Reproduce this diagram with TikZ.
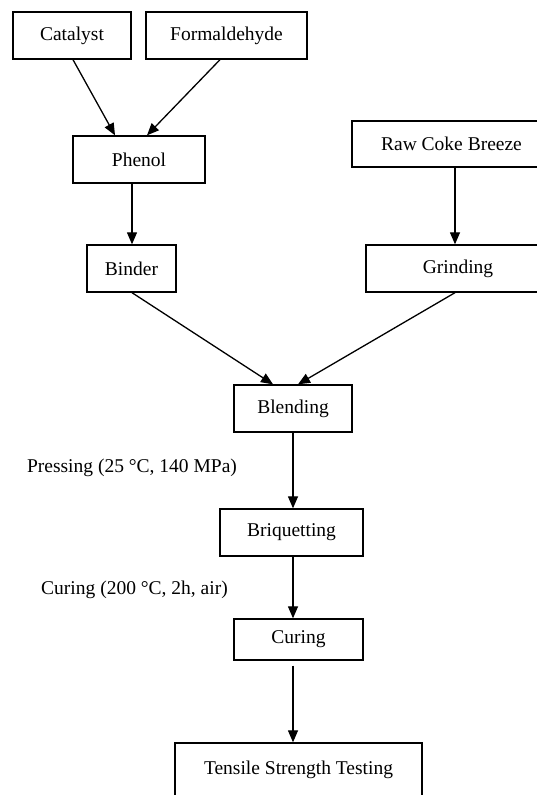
\documentclass[tikz,border=0pt]{standalone}
\usepackage{fontspec}
\setmainfont{Liberation Serif}
\usetikzlibrary{arrows.meta,calc}
\begin{document}
\begin{tikzpicture}[x=1pt,y=-1pt,
  box/.style={draw, line width=1.35pt, minimum height=47pt, inner sep=0pt, font=\fontsize{19.5}{23}\selectfont},
  arr/.style={line width=1.3pt, -{Triangle[length=12pt,width=10pt]}},
  lbl/.style={font=\fontsize{19.5}{23}\selectfont, inner sep=0pt}]
\useasboundingbox (0,0) rectangle (537,795);
\begin{scope}
\clip (0,0) rectangle (537,795);
\node[box, minimum width=118pt] (cat) at (72,35.5) {Catalyst};
\node[box, minimum width=161pt] (form) at (226.5,35.5) {Formaldehyde};
\node[box, minimum width=132pt] (phe) at (139,159.5) {Phenol};
\node[box, minimum width=199pt, minimum height=46pt] (raw) at (451.5,144) {Raw Coke Breeze};
\node[box, minimum width=184pt] (gri) at (458,268.5) {Grinding};
\node[box, minimum width=89pt] (bin) at (131.5,268.5) {Binder};
\node[box, minimum width=118pt] (ble) at (293,408.5) {Blending};
\node[box, minimum width=143pt] (bri) at (291.5,532.5) {Briquetting};
\node[box, minimum width=129pt, minimum height=41pt] (cur) at (298.5,639.5) {Curing};
\node[box, minimum width=247pt, minimum height=54pt] (ten) at (298.5,770) {Tensile Strength Testing};
\node[lbl] (lp) at (132,468) {Pressing (25 °C, 140 MPa)};
\node[lbl] (lc) at (134.5,590) {Curing (200 °C, 2h, air)};

\draw[arr] ($(cat.south)+(1,0)$) -- ($(phe.north)+(-24,0)$);
\draw[arr] ($(form.south)+(-6.5,0)$) -- ($(phe.north)+(8,0)$);
\draw[arr] ($(phe.south)+(-7,0)$) -- ($(bin.north)+(0.5,0)$);
\draw[arr] ($(raw.south)+(3.5,0)$) -- ($(gri.north)+(-3,0)$);
\draw[arr] ($(bin.south)+(0.5,0)$) -- ($(ble.north)+(-20,0)$);
\draw[arr] ($(gri.south)+(-3,0)$) -- ($(ble.north)+(5,0)$);
\draw[arr] (ble.south) -- ($(bri.north)+(1.5,0)$);
\draw[arr] ($(bri.south)+(1.5,0)$) -- ($(cur.north)+(-5.5,0)$);
\draw[arr] ($(cur.south)+(-5.5,5)$) -- ($(ten.north)+(-5.5,0)$);
\end{scope}
\end{tikzpicture}
\end{document}
